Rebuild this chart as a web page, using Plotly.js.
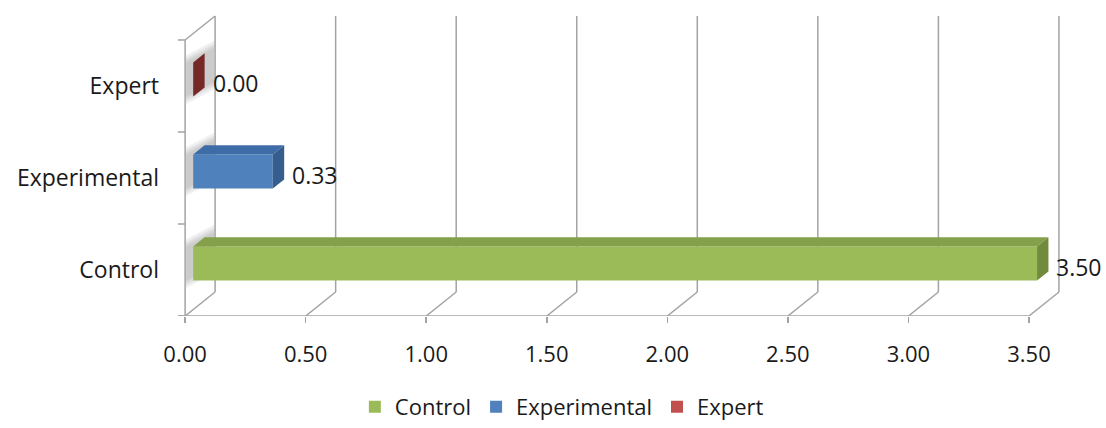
<!DOCTYPE html>
<html>
<head>
<meta charset="utf-8">
<script src="https://cdn.plot.ly/plotly-3.0.1.min.js"></script>
<style>
  html, body { margin: 0; padding: 0; background: #ffffff; }
  #chart { width: 1106px; height: 428px; }
</style>
</head>
<body>
<div id="chart"></div>
<script>
// Series values (one bar per group)
const categories = ['Control', 'Experimental', 'Expert'];
const values = [3.50, 0.33, 0.00];
const xTickVals = [0, 0.5, 1, 1.5, 2, 2.5, 3, 3.5];

// Face colours for the pseudo-3D bars
const frontColors = ['#9BBB59', '#4F81BD', '#C0504D'];
const topColors = ['#85A04B', '#3E6CA7', '#9A3835'];
const sideColors = ['#728A3B', '#355E8E', '#762826'];

// Depth of the box (back wall offset, in axis units) and bar depth span
const DX = 0.1244, DY = 0.261;
const F0 = 0.27, F1 = 0.65;
const BAR_H = 0.37;
const gridColor = '#A3A3A3';

const xMax = xTickVals[xTickVals.length - 1];
const yLo = -0.5, yHi = categories.length - 0.5;

const traces = categories.map((c, i) => ({
  type: 'bar',
  orientation: 'h',
  name: c,
  x: [values[i]],
  y: [i + DY * F0],
  base: [DX * F0],
  width: BAR_H,
  marker: { color: frontColors[i], line: { width: 0 } },
  hoverinfo: 'x+name'
}));

const shapes = [];
const line = (x0, y0, x1, y1, w) => ({
  type: 'line', xref: 'x', yref: 'y', x0, y0, x1, y1,
  line: { color: gridColor, width: w || 1.5 }, layer: 'below'
});

// back-wall gridlines and floor diagonals
xTickVals.forEach(v => {
  shapes.push(line(v + DX, yLo + DY, v + DX, yHi + DY));
  shapes.push(line(v, yLo, v + DX, yLo + DY));
});
// left side wall
shapes.push(line(0, yLo, 0, yHi));
shapes.push(line(0, yHi, DX, yHi + DY));
// front category-axis ticks
for (let k = 0; k <= categories.length; k++) {
  shapes.push(line(-0.03, yLo + k, 0, yLo + k));
}
// front value-axis line
shapes.push(line(-0.03, yLo, xMax, yLo));

// soft shadows cast on the side wall
categories.forEach((c, i) => {
  const yc = i + DY * F0;
  [0.08, 0.05, 0.025, 0].forEach(g => {
    const b = yc - BAR_H / 2 - g, t = yc + BAR_H / 2 + g;
    shapes.push({
      type: 'path', xref: 'x', yref: 'y', layer: 'below',
      path: `M ${0.004},${b} L ${DX - 0.004},${b + DY * 0.6} L ${DX - 0.004},${t + DY * 0.6} L ${0.004},${t} Z`,
      fillcolor: 'rgba(110,110,110,0.10)', line: { width: 0 }
    });
  });
});

// top and side faces of each bar
categories.forEach((c, i) => {
  const yc = i + DY * F0;
  const x0 = DX * F0, x1 = DX * F0 + values[i];
  const yb = yc - BAR_H / 2, yt = yc + BAR_H / 2;
  const ddx = DX * (F1 - F0), ddy = DY * (F1 - F0);
  shapes.push({
    type: 'path', xref: 'x', yref: 'y', layer: 'above',
    path: `M ${x0},${yt} L ${x1},${yt} L ${x1 + ddx},${yt + ddy} L ${x0 + ddx},${yt + ddy} Z`,
    fillcolor: topColors[i], line: { width: 0 }
  });
  shapes.push({
    type: 'path', xref: 'x', yref: 'y', layer: 'above',
    path: `M ${x1},${yb} L ${x1},${yt} L ${x1 + ddx},${yt + ddy} L ${x1 + ddx},${yb + ddy} Z`,
    fillcolor: sideColors[i], line: { width: 0 }
  });
});

// value labels beside each bar
const annotations = categories.map((c, i) => ({
  xref: 'x', yref: 'y',
  x: values[i] + DX * F1, y: i + DY * F0 * 0.5,
  xanchor: 'left', yanchor: 'middle', xshift: 6,
  text: values[i].toFixed(2), showarrow: false,
  font: { family: 'Open Sans, sans-serif', size: 23, color: '#1a1a1a' }
}));

const layout = {
  width: 1106, height: 428,
  margin: { l: 161, r: 24, t: 10, b: 112, pad: 0, autoexpand: false },
  paper_bgcolor: '#ffffff', plot_bgcolor: '#ffffff',
  font: { family: 'Open Sans, sans-serif', size: 22, color: '#1a1a1a' },
  barmode: 'overlay',
  showlegend: true,
  legend: {
    orientation: 'h', x: 0.508, xref: 'container', xanchor: 'center',
    y: 0.0, yref: 'container', yanchor: 'bottom',
    font: { family: 'Open Sans, sans-serif', size: 22, color: '#1a1a1a' },
    traceorder: 'normal', itemclick: false
  },
  xaxis: {
    range: [-0.1, 3.72], tickvals: xTickVals, tickformat: '.2f',
    ticks: 'outside', ticklen: 6, tickcolor: gridColor, tickwidth: 1.5,
    showgrid: false, zeroline: false, showline: false,
    ticklabelstandoff: 13, fixedrange: true,
    tickfont: { size: 22 }
  },
  yaxis: {
    range: [yLo, 2.826],
    tickvals: categories.map((c, i) => i), ticktext: categories,
    ticks: '', showgrid: false, zeroline: false, showline: false,
    ticklabelstandoff: 1, fixedrange: true,
    tickfont: { size: 23 }
  },
  shapes, annotations
};

Plotly.newPlot('chart', traces, layout, { displayModeBar: false, staticPlot: true });
</script>
</body>
</html>
